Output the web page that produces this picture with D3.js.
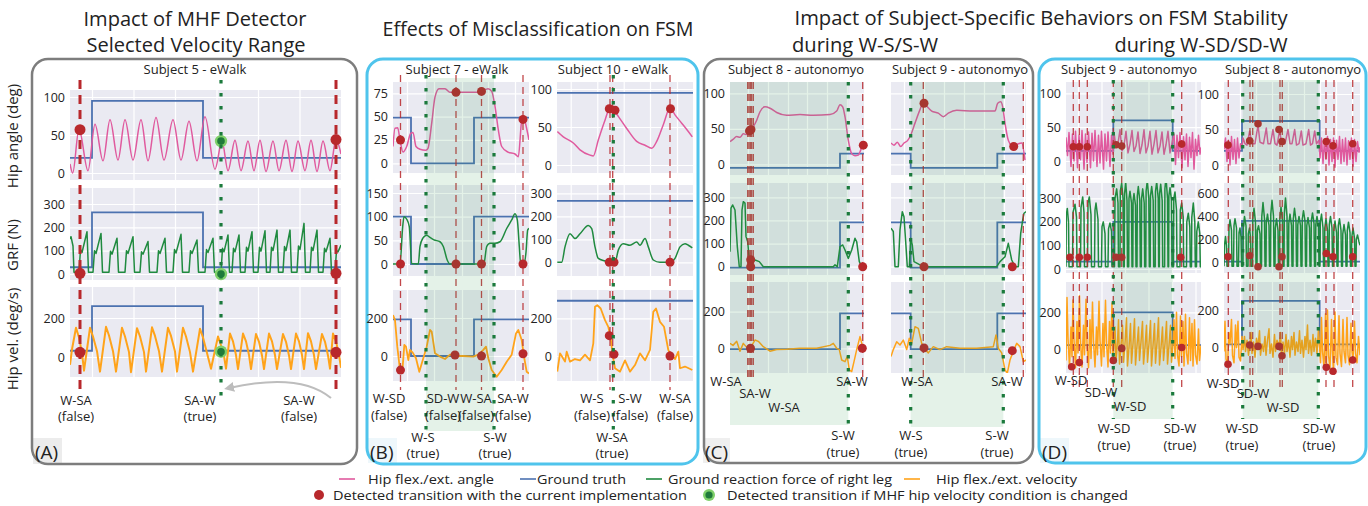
<!DOCTYPE html>
<html><head><meta charset="utf-8">
<script src="https://cdn.jsdelivr.net/npm/d3@7"></script>
<style>
body{margin:0;background:#fff}
svg{display:block}
text{font-family:'Open Sans',sans-serif;fill:#222}
</style></head><body>
<svg id="c" width="1368" height="506"></svg>
<script>
// ================= DATA =================
// ---- Panel A : Subject 5 - eWalk (time in samples) ----
const aTruthAngle=[[0,20],[22,95],[133,20],[271,20]];
const aTruthGrf=[[0,29],[22,264],[133,29],[271,29]];
const aTruthVel=[[0,32],[22,261],[133,32],[271,32]];
const aAngle=[[0,12],[2.7,0],[9,58],[18,3],[25,64],[33,16],[40,70],[48,17],[55,70],[63,17],[71,70],[78,16],[86,73],[94,17],[103,70],[111,17],[119,68],[127,16],[135,74],[145,5],[152,42],[158,3],[165,43],[171,3],[178,42],[184,3],[190,43],[196,2],[203,42],[209,3],[216,43],[222,2],[228,42],[235,3],[241,43],[247,2],[253,42],[260,3],[266,44],[271,25]];
const aGrf=[[0,150],[1,160],[3,120],[4,8],[9,8],[10.5,105],[12,92],[17,181],[18.5,8],[23,8],[24.5,100],[26,88],[31,174],[32.5,8],[39,8],[40.5,98],[42,85],[47,153],[48.5,8],[55,8],[56.5,100],[58,88],[63,160],[64.5,8],[70,8],[71.5,95],[73,85],[78,139],[79.5,8],[87,8],[88.5,100],[90,88],[95,153],[96.5,8],[103,8],[104.5,105],[106,90],[111,170],[112.5,8],[119,8],[120.5,100],[122,88],[127,146],[128.5,8],[135,8],[136.5,105],[138,92],[143,153],[144.5,8],[151,8],[152.5,110],[154,95],[158,167],[159.5,8],[162,8],[163.5,110],[165,95],[169,167],[170.5,8],[175,8],[176.5,115],[178,98],[182,181],[183.5,8],[188,8],[189.5,115],[191,98],[195,185],[196.5,8],[200,8],[201.5,115],[203,100],[207,188],[208.5,8],[213,8],[214.5,118],[216,100],[220,188],[221.5,8],[227,8],[228.5,120],[230,105],[234,217],[235.5,8],[240,8],[241.5,115],[243,100],[247,188],[248.5,8],[253,8],[254.5,110],[256,95],[260,153],[261.5,8],[265,8],[266.5,100],[268,95],[271,124]];
const aVel=[[0,-40],[2,40],[6,150],[9,100],[12,20],[14,-70],[20,150],[23,105],[27,30],[30,-75],[36,155],[39,110],[43,30],[46,-75],[52,150],[55,105],[59,25],[61,-78],[67,148],[70,105],[74,25],[76,-75],[82,152],[85,108],[89,30],[92,-75],[98,150],[101,108],[105,28],[107,-75],[113,150],[116,105],[120,25],[123,-75],[130,145],[133,100],[137,20],[141,-60],[148,105],[151,60],[154,5],[156,-60],[160,120],[163,80],[166,10],[168,-62],[173,120],[176,80],[179,10],[181,-62],[186,118],[189,78],[192,8],[194,-62],[199,120],[202,80],[205,10],[207,-62],[213,118],[216,78],[219,8],[221,-62],[226,120],[229,80],[232,10],[234,-62],[238,122],[241,80],[244,10],[246,-62],[252,118],[255,78],[258,8],[260,-60],[263,120],[266,80],[269,10],[271,-55]];
const aRedT=[10,266], aGreenT=[151];
const aDotsAngle=[[10,57],[266,44]], aDotsGrf=[[10,3],[266,3]], aDotsVel=[[10,24],[266,24]];
const aGreenDots=[[[151,42]],[[151,0]],[[151,27]]];
const aGridX=[22,63.5,105,146.5,188,229.5];

// ---- Panel B left : Subject 7 - eWalk ----
const blTruthAngle=[[0,49],[18,0],[81,49],[136,49]];
const blTruthGrf=[[0,100],[18,0],[81,100],[136,100]];
const blTruthVel=[[0,193],[18,0],[81,193],[136,193]];
const blAngle=[[0,18],[2,37.5],[4.7,38],[7,25],[10,12],[13.7,18],[17.7,32],[20,33],[23,18],[27,15],[32.7,14],[35,16],[38.7,43],[42,71],[46,80],[52,80],[57,76],[63.7,76],[80,76],[88.7,77],[95,80],[98.7,77],[102,61],[105.3,36],[108.7,18],[115,12],[122,10],[125.3,7],[128.7,46],[130.3,50],[133.7,37],[136,25]];
const blGrf=[[0,0],[7,0],[9.7,79],[11,100],[13.7,95],[16.3,79],[18.7,1],[25.3,0],[27,37],[29.7,54],[33.7,61],[37,56],[41,51],[47,47],[50.3,37],[54.3,8],[57,0],[82,0],[87,0],[91,2],[93.7,37],[97,44],[102,44],[107,47],[113.7,75],[118.7,93],[122,106],[124.3,93],[126.3,37],[127.7,0],[131,0],[133,25],[134.7,72],[136,75]];
const blVel=[[0,216],[2,189],[4.3,49],[7,-74],[9.7,-56],[11.3,58],[13,49],[15.3,-21],[17,32],[19.7,18],[23,-12],[26.3,-83],[30.3,-12],[33.7,49],[37,137],[38.7,128],[42,14],[47,-3],[52,-16],[57,7],[62,0],[70.3,0],[80.3,-3],[85.3,7],[90.3,32],[93,49],[95.3,-12],[98.7,-74],[103.7,-109],[108.7,-74],[113.7,-30],[118.7,7],[123,119],[125.3,137],[128.7,84],[131,-3],[133.7,-83],[136,-92]];
const blRedT=[7.5,63,88.5,130], blGreenT=[33,101], blShade=[33,101];
const blDotsAngle=[[7.5,25],[63,76],[88.5,77],[130,47]], blDotsGrf=[[7.5,0],[63,0],[88.5,0],[130,0]], blDotsVel=[[7.5,-74],[62,5],[88.5,0],[130,12]];
const blGridX=[14,41,69,95,122];

// ---- Panel B right : Subject 10 - eWalk ----
const brTruthAngle=[[0,95],[136,95]];
const brTruthGrf=[[0,267],[136,267]];
const brTruthVel=[[0,293],[136,293]];
const brAngle=[[0.3,44],[6.3,37],[16.3,29],[23,20],[33,13],[36.3,12],[41.3,33],[48,59],[53,75],[57,72],[61.3,64],[69.7,48],[79.7,31],[88,26],[94.7,22],[99.7,31],[106.3,53],[113,75],[118,66],[124.7,55],[131.3,44],[135.3,37]];
const brGrf=[[0.3,0],[4.7,0],[8,67],[13,124],[18,103],[23,124],[31.3,160],[34.7,146],[38,67],[41.3,17],[48,6],[53,0],[58,0],[61.3,53],[66.3,81],[73,74],[79.7,88],[83,74],[88,103],[91.3,67],[96.3,10],[103,0],[113,0],[118,17],[123,67],[128,81],[131.3,74],[135.3,63]];
const brVel=[[0.3,-83],[3,14],[4.7,0],[8,-30],[9.7,23],[13,-30],[18,-16],[23,-23],[28,7],[33,-23],[36.3,67],[38,261],[40.3,270],[43.7,252],[48,190],[51.3,155],[53.7,94],[55.7,5],[58,-65],[63,-83],[68,-23],[73,-83],[78,-48],[83,14],[88,-23],[93,32],[96.3,234],[99,252],[103,181],[107,155],[111.3,32],[113.7,5],[118,-16],[121.3,23],[123,-65],[128,-56],[135.3,-74]];
const brRedT=[53,55.7,113], brGreenT=[56.3];
const brDotsAngle=[[52.3,74],[58,72],[113.5,74]], brDotsGrf=[[52.3,0],[57,0],[113,0]], brDotsVel=[[52.3,108],[57,9],[113,0]];
const brGridX=[13.7,40.3,66.7,93,120];

// ---- Panel C left : Subject 8 - autonomyo ----
const clTruthAngle=[[0,-5],[110,15],[134,15]];
const clTruthGrf=[[0,-4],[110,192],[134,192]];
const clTruthVel=[[0,-5],[110,191],[134,191]];
const clAngle=[[0,32],[3,35],[6.7,39],[10,38],[13.3,43],[16,42],[20,48],[23.3,53],[26.7,62],[30,74],[35,81],[40,79],[46.7,73],[56.7,69],[70,70],[83.3,69],[100,70],[106.7,75],[110,84],[112.7,81],[115,67],[118.3,34],[121.7,15],[125,12],[128.3,13],[130.7,20],[132.7,27],[134,27]];
const clGrf=[[0,65],[1,253],[2.7,267],[5,245],[7.3,87],[9.3,0],[11,0],[12,245],[13.3,281],[15,275],[16,130],[17.7,108],[19.3,29],[21.7,36],[25,29],[29.3,22],[33.3,0],[103.3,0],[105,8],[107.3,0],[110,87],[112.7,94],[115,72],[118.3,36],[121.7,72],[125,123],[126.7,108],[129.3,22],[131.7,0],[134,0]];
const clVel=[[0,27],[3,16],[6.7,38],[10,-16],[13.3,27],[16.7,5],[20,0],[25,45],[28.3,38],[33.3,9],[40,-16],[46.7,-7],[56.7,-5],[70,0],[86.7,0],[100,16],[103.3,27],[106.7,0],[109.3,-7],[111.7,-64],[115,-73],[117.3,-45],[119.3,-118],[121.7,-127],[124,-73],[126.7,-7],[130,64],[132.3,16],[134,0]];
const clRedT=[17.7,19,20.3,21.7,23.3,132.7], clGreenT=[118.3], clShade=[0,118.3];
const clDotsAngle=[[19.5,47],[21,49],[133.3,27]], clDotsGrf=[[20.7,30],[20.7,0],[132.7,0]], clDotsVel=[[20.5,0],[132.3,0]];
const clGridX=[18,38,58,77,97,117];

// ---- Panel C right : Subject 9 - autonomyo ----
const crTruthAngle=[[0,15],[19.7,-5],[106.3,15],[135,15]];
const crTruthGrf=[[0,192],[19.7,-4],[106.3,192],[135,192]];
const crTruthVel=[[0,191],[19.7,-5],[106.3,191],[135,191]];
const crAngle=[[0,30],[3,27],[6.3,31],[9.7,25],[13,30],[16.3,33],[19.7,41],[24,58],[29,77],[32.3,87],[35.7,82],[40.7,75],[47.3,72],[52.3,67],[57.3,72],[65.7,76],[82.3,75],[99,75],[104,75],[106.7,86],[109.7,88],[111.7,81],[114,58],[117.3,34],[122.3,25],[127.3,29],[130.7,30],[134,6]];
const crGrf=[[0,166],[2.3,152],[4,0],[7.3,0],[9,159],[11.3,238],[13,216],[15,87],[16.3,0],[18.3,0],[19.7,123],[21.3,94],[23,22],[29,8],[35.7,0],[105.7,0],[109,22],[114,43],[117.3,101],[120.7,29],[124,0],[127.3,0],[129.7,144],[131.7,202],[133,231],[135,238]];
const crVel=[[0,-45],[2.3,-7],[5.7,36],[9,18],[12.3,45],[15.7,-7],[18.3,55],[20.7,27],[24,118],[27.3,109],[30.7,27],[33,0],[37.3,-25],[42.3,9],[49,-7],[55.7,9],[69,0],[85.7,0],[102.3,9],[105,73],[107.3,0],[110.7,-25],[114,-118],[116.3,-136],[119,-64],[122.3,-16],[125.7,27],[129,9],[132.3,-73],[135,-64]];
const crRedT=[32.3,132.3], crGreenT=[19.7,112.3], crShade=[19.7,112.3];
const crDotsAngle=[[33,86],[122.7,25]], crDotsGrf=[[33,0],[121.3,0]], crDotsVel=[[33,2],[121.3,-13]];
const crGridX=[13,33,53,73,93,113,133];

// ---- Panel D left : Subject 9 - autonomyo ----
const dlTruthAngle=[[0,15],[47.3,60],[106.7,15],[135,15]];
const dlTruthGrf=[[0,31],[47.3,200],[106.7,31],[135,31]];
const dlTruthVel=[[0,23],[47.3,200],[106.7,23],[135,23]];
const dlAngle=[[0,35],[1.5,8],[3,42],[5,-8],[6.5,40],[8,0],[9.5,44],[11.5,-10],[13,38],[14.5,2],[16,45],[18,-12],[19.5,40],[21,-2],[22.5,43],[24.5,-10],[26,41],[27.5,0],[29,45],[31,-8],[32.5,38],[34,-3],[35.5,44],[37.5,-12],[39,40],[40.5,0],[42,43],[44,-8],[45.5,38],[47,10],[48,42],[50,20],[52,26],[54,46],[56,15],[58,22],[60,44],[62,12],[64,25],[66,45],[68,14],[70,22],[72,43],[74,11],[76,24],[78,46],[80,12],[82,22],[84,44],[86,10],[88,25],[90,45],[92,12],[94,22],[96,43],[98,10],[100,24],[102,44],[104,12],[106.5,30],[108,40],[109.5,-5],[111,38],[112.5,5],[114,42],[116,-10],[117.5,36],[119,2],[120.5,40],[122,-8],[123.5,35],[125,5],[126.5,42],[128,-12],[129.5,32],[131,8],[132.5,38],[134,10],[135,20]];
const dlGrf=[[0,10],[0.3,230],[1.3,257],[2.5,200],[3,10],[6.5,10],[7,240],[9,275],[10.5,220],[11,10],[14.5,10],[15,260],[16.7,306],[18,240],[18.5,10],[21.5,10],[22,280],[23.3,306],[25,230],[25.5,10],[28.5,10],[29,250],[30,280],[32,210],[32.5,10],[35.5,10],[36,180],[37.3,200],[39,150],[39.5,10],[42,10],[42.5,170],[44,195],[45.5,160],[46,10],[48.5,10],[49,300],[50.7,340],[52,280],[52.5,10],[54,10],[54.3,330],[55.7,364],[57,300],[57.5,10],[58.3,10],[58.6,320],[59.7,370],[61,290],[61.5,10],[62.7,10],[63,300],[64,330],[65.5,280],[66,10],[66.8,10],[67.1,290],[68,320],[69.5,270],[70,10],[71,10],[71.3,310],[72.3,350],[73.8,290],[74.3,10],[75.3,10],[75.6,300],[76.7,340],[78.2,280],[78.7,10],[79.8,10],[80.1,330],[81.3,375],[82.8,300],[83.3,10],[84.2,10],[84.5,310],[85.7,350],[87.2,290],[87.7,10],[89.2,10],[89.5,330],[90.7,370],[92.2,300],[92.7,10],[93.3,10],[93.6,320],[94.7,360],[96.2,290],[96.7,10],[98.6,10],[98.9,340],[100,390],[101.5,300],[102,10],[102.6,10],[102.9,310],[104,345],[105.5,290],[106,10],[107.5,10],[107.8,300],[109,327],[110.5,250],[111,10],[114,10],[114.3,250],[115.7,280],[117.2,220],[117.7,10],[120.5,10],[120.8,200],[122.3,237],[123.8,180],[124.3,10],[125.5,10],[125.8,220],[127.3,280],[128.8,200],[129.3,10],[130.5,10],[130.8,160],[132.3,200],[133.8,150],[134.3,10],[135,10]];
const dlVel=[[0,-60],[1,280],[2,60],[3.5,-95],[5,120],[6,-40],[7,266],[8,50],[9.5,-100],[11,150],[12,-20],[13.5,290],[14.5,40],[16,-95],[17.5,130],[18.5,-30],[20,270],[21,30],[22.5,-100],[24,160],[25,-50],[26.5,255],[27.5,40],[29,-95],[30.5,120],[31.5,-30],[33,260],[34,50],[35.5,-90],[37,140],[38,-40],[39.5,265],[40.5,40],[42,-95],[43.5,150],[44.5,-20],[46,250],[47,-70],[49,120],[50,-60],[51.5,40],[52.5,160],[53.5,-80],[55,20],[56.5,130],[57.5,-70],[59,30],[60.5,170],[61.5,-90],[63,10],[64.5,140],[65.5,-75],[67,30],[68.5,165],[69.5,-85],[71,20],[72.5,120],[73.5,-60],[75,40],[76.5,150],[77.5,-80],[79,10],[80.5,130],[81.5,-70],[83,30],[84.5,155],[85.5,-90],[87,20],[88.5,140],[89.5,-75],[91,35],[92.5,170],[93.5,-85],[95,10],[96.5,120],[97.5,-60],[99,30],[100.5,150],[101.5,-80],[103,20],[104.5,130],[105.5,-70],[107,30],[108,160],[109,-50],[110.5,200],[111.5,-30],[113,-90],[114.5,180],[115.5,-40],[117,150],[118,-90],[119.5,190],[120.5,-20],[122,-80],[123.5,170],[124.5,-60],[126,140],[127,-90],[128.5,160],[129.5,-30],[131,-80],[132.5,110],[133.5,-60],[135,20]];
const dlRedT=[7.3,13.3,21.3,47.3,55.7,115.7], dlGreenT=[47.3,106.7], dlShade=[47.3,106.7];
const dlDotsAngle=[[7.3,21],[13.3,21],[21.3,21],[50,24],[55.7,22],[115.7,25]], dlDotsGrf=[[4,50],[13.3,50],[21.3,50],[50,50],[55.7,50],[114.7,50]], dlDotsVel=[[5.7,-94],[13.3,-72],[47.3,-60],[55.7,5],[115.7,10]];
const dlGridX=[12,35.5,59,82.5,106,129.5];

// ---- Panel D right : Subject 8 - autonomyo ----
const drTruthAngle=[[0,20],[18,62],[95.7,20],[136,20]];
const drTruthGrf=[[0,10],[18,362],[95.7,10],[136,10]];
const drTruthVel=[[0,18],[18,248],[95.7,18],[136,18]];
const drAngle=[[0,22],[1.5,38],[3,5],[4.5,35],[6,0],[7.5,40],[9,8],[10.5,36],[12,2],[13.5,38],[15,10],[16.5,30],[18,25],[19,38],[21,30],[23,28],[25.7,48],[27.5,30],[31,30],[34,56],[36,32],[39.5,30],[42.3,52],[44,30],[46.5,30],[49,50],[51,30],[53,28],[55.7,49],[57.5,30],[61,30],[64,50],[66,30],[68,30],[70.7,50],[72.5,28],[75,30],[77.3,48],[79,28],[82,30],[84.7,50],[86.5,28],[88.5,30],[90.7,48],[92.5,30],[95,35],[96,10],[97.5,38],[99,2],[100.5,35],[102,8],[103.5,40],[105,0],[106.5,36],[108,5],[109.5,38],[111,-3],[112.5,35],[114,8],[115.5,40],[117,2],[118.5,36],[120,5],[121.5,38],[123,0],[124.5,34],[126,8],[127.5,38],[129,-2],[130.5,36],[132,5],[133.5,33],[135,18],[136,25]];
const drGrf=[[0,-30],[0.5,150],[1.5,226],[2.5,150],[3,-30],[4.5,-30],[5,300],[6,371],[7.5,280],[8,-30],[9.5,-30],[10,320],[11,380],[12.5,300],[13,-30],[14.5,-30],[15,260],[16,300],[17,220],[17.5,-30],[19,-30],[19.3,300],[20.5,400],[22,320],[22.5,-30],[24,-30],[24.3,250],[25.5,300],[26.5,220],[27,-30],[28.5,-30],[28.8,380],[30,470],[31.5,350],[32,-30],[33,-30],[33.3,280],[34.5,320],[36,250],[36.5,-30],[37.5,-30],[37.8,400],[39,520],[40.5,380],[41,-30],[42,-30],[42.3,350],[43.5,420],[45,320],[45.5,-30],[46.5,-30],[46.8,420],[48,540],[49.5,400],[50,-30],[51,-30],[51.3,300],[52.5,380],[54,280],[54.5,-30],[55.5,-30],[55.8,380],[57,480],[58.5,360],[59,-30],[60,-30],[60.3,420],[61.5,560],[63,400],[63.5,-30],[64.5,-30],[64.8,340],[66,420],[67.5,320],[68,-30],[69,-30],[69.3,380],[70.5,470],[72,360],[72.5,-30],[73.5,-30],[73.8,330],[75,400],[76.5,320],[77,-30],[78,-30],[78.3,380],[79.5,450],[81,360],[81.5,-30],[82.5,-30],[82.8,320],[84,390],[85.5,300],[86,-30],[87,-30],[87.3,360],[88.5,430],[90,340],[90.5,-30],[91.5,-30],[91.8,330],[93,400],[94.5,310],[95,-30],[96,-30],[96.3,350],[97.5,420],[99,300],[99.5,-30],[100.5,-30],[100.8,300],[102,380],[103.5,280],[104,-30],[105,-30],[105.3,330],[106.5,400],[108,300],[108.5,-30],[109.5,-30],[109.8,280],[111,360],[112.5,260],[113,-30],[114,-30],[114.3,320],[115.5,380],[117,280],[117.5,-30],[118.5,-30],[118.8,250],[120,330],[121.5,240],[122,-30],[123,-30],[123.3,280],[124.5,350],[126,260],[126.5,-30],[127.5,-30],[127.8,220],[129,300],[130.5,210],[131,-30],[132,-30],[132.3,200],[133.5,240],[135,180],[136,150]];
const drVel=[[0,-20],[1,140],[2,-60],[3.5,-90],[5,80],[6,20],[7.5,150],[8.5,-40],[10,-80],[11.5,120],[12.5,0],[14,140],[15,-50],[16.5,-70],[18,60],[19,-10],[20.5,60],[21.5,-20],[23,40],[24.5,-40],[25.7,14],[27,80],[28,-30],[29.5,30],[31,-50],[32.5,50],[34,7],[35.5,90],[36.5,-40],[38,20],[39.5,-20],[41,60],[42,-40],[43.5,40],[45,100],[46,-30],[47.5,20],[49,-50],[50.5,70],[51.5,-20],[53,40],[55,7],[56.5,80],[57.5,-43],[59,30],[60.5,-30],[62,70],[63,-20],[64.5,40],[66,-50],[67.5,60],[68.5,-10],[70,80],[71,-40],[72.5,30],[74,-20],[75.5,90],[76.5,-30],[78,40],[79.5,-50],[81,60],[82,-10],[83.5,120],[84.5,-30],[86,40],[87.5,-40],[89,70],[90,-20],[91.5,50],[93,-30],[94.5,100],[95.5,10],[96.5,-80],[97.5,160],[98.5,-20],[100,-100],[101.5,180],[102.3,-104],[103.5,200],[104.5,-40],[106,-110],[107.5,150],[108.5,-30],[109.5,-130],[111,190],[112,-50],[113.5,-90],[115,170],[116,-30],[117.5,-100],[119,150],[120,-20],[121.5,-80],[123,160],[124,-40],[125.5,-90],[127,130],[128,-20],[129,-65],[130.5,140],[131.5,-30],[133,-80],[134.5,60],[136,-40]];
const drRedT=[4.3,26,28.7,56,58.3,102,110,128.7], drGreenT=[18.7,94.3], drShade=[18.7,94.3];
const drDotsAngle=[[4,28],[25.7,34],[34,58],[55,50],[58,33],[102.3,33],[109,27],[128.7,30]], drDotsGrf=[[4,52],[25.7,60],[34,-35],[55,-35],[58,52],[102.3,80],[109,52],[128.7,52]], drDotsVel=[[4,-88],[25.7,14],[34,7],[55,7],[58,-43],[102.3,-104],[109,-125],[128.7,-65]];
const drGridX=[16,32,48,64,80,96,112,128];

// ---- text ----
const yAxisTitles=['Hip angle (deg)','GRF (N)','Hip vel. (deg/s)'];
const legendLines=['Hip flex./ext. angle','Ground truth','Ground reaction force of right leg','Hip flex./ext. velocity'];
const legendDots=['Detected transition with the current implementation','Detected transition if MHF hip velocity condition is changed'];

// ================= STYLE / LAYOUT =================
const C={angle:'#e05a9e',truth:'#4c72b0',grf:'#1f8a3f',vel:'#ffa31a',red:'#b8282c',green:'#1b7a3c',bg:'#eaeaf2',shade:'#2e9e50',gray:'#7d7d7d',blue:'#4fc4ec'};

function rowsDef(r, sets, labels){
  return r.map((d,i)=>Object.assign({},d,sets[i],{labels}));
}
const subplots=[
 {x0:70,x1:341,w:271,grid:aGridX,red:aRedT,green:aGreenT,shade:null,thick:true,evTop:80,redBot:395,greenBot:397,r:5.5,title:'Subject 5 - eWalk',tx:195,
  rows:rowsDef([{top:90,bottom:180,cal:[0,173,100,97],ticks:[0,50,100]},{top:188,bottom:280,cal:[0,274,300,204],ticks:[0,100,200,300]},{top:287,bottom:377,cal:[0,357,200,318],ticks:[0,200]}],
   [{s:aAngle,t:aTruthAngle,c:'angle',d:aDotsAngle,curve:'smooth'},{s:aGrf,t:aTruthGrf,c:'grf',d:aDotsGrf,curve:'lin'},{s:aVel,t:aTruthVel,c:'vel',d:aDotsVel,curve:'lin',lw:2}],true),
  greenDots:aGreenDots},
 {x0:393,x1:529,w:136,grid:blGridX,red:blRedT,green:blGreenT,shade:blShade,evTop:75,redBot:390,greenBot:432,shadeTop:78,shadeBot:431,r:4.5,title:'Subject 7 - eWalk',tx:457,
  rows:rowsDef([{top:82,bottom:173,cal:[0,163.3,75,93.3],ticks:[0,25,50,75]},{top:185,bottom:276,cal:[0,264,150,193],ticks:[0,50,100,150]},{top:290,bottom:381,cal:[0,356,200,318],ticks:[0,200]}],
   [{s:blAngle,t:blTruthAngle,c:'angle',d:blDotsAngle,curve:'smooth'},{s:blGrf,t:blTruthGrf,c:'grf',d:blDotsGrf,curve:'smooth'},{s:blVel,t:blTruthVel,c:'vel',d:blDotsVel,curve:'lin',lw:1.8}],true)},
 {x0:557,x1:693,w:136,grid:brGridX,red:brRedT,green:brGreenT,shade:null,evTop:75,redBot:390,greenBot:432,r:4.5,title:'Subject 10 - eWalk',tx:613,
  rows:rowsDef([{top:82,bottom:173,cal:[0,165,100,89],ticks:[0,50,100]},{top:185,bottom:276,cal:[0,262.3,300,193.3],ticks:[0,100,200,300]},{top:290,bottom:381,cal:[0,356,200,318.3],ticks:[0,200]}],
   [{s:brAngle,t:brTruthAngle,c:'angle',d:brDotsAngle,curve:'smooth'},{s:brGrf,t:brTruthGrf,c:'grf',d:brDotsGrf,curve:'smooth'},{s:brVel,t:brTruthVel,c:'vel',d:brDotsVel,curve:'lin',lw:1.8}],true)},
 {x0:730,x1:864,w:134,grid:clGridX,red:clRedT,green:clGreenT,shade:clShade,evTop:82,redBot:382,greenBot:425,shadeTop:82,shadeBot:425,r:4.5,title:'Subject 8 - autonomyo',tx:796,
  rows:rowsDef([{top:82,bottom:175,cal:[0,164.3,100,93.3],ticks:[0,50,100]},{top:183,bottom:275,cal:[0,266.7,300,197.3],ticks:[0,100,200,300]},{top:282,bottom:373,cal:[0,348.3,200,311.7],ticks:[0,200]}],
   [{s:clAngle,t:clTruthAngle,c:'angle',d:clDotsAngle,curve:'smooth'},{s:clGrf,t:clTruthGrf,c:'grf',d:clDotsGrf,curve:'lin'},{s:clVel,t:clTruthVel,c:'vel',d:clDotsVel,curve:'lin'}],true)},
 {x0:891,x1:1026,w:135,grid:crGridX,red:crRedT,green:crGreenT,shade:crShade,evTop:82,redBot:382,greenBot:427,shadeTop:82,shadeBot:427,r:4.5,title:'Subject 9 - autonomyo',tx:960,
  rows:rowsDef([{top:82,bottom:175,cal:[0,164.3,100,93.3],ticks:[0,50,100]},{top:183,bottom:275,cal:[0,266.7,300,197.3],ticks:[0,100,200,300]},{top:282,bottom:373,cal:[0,348.3,200,311.7],ticks:[0,200]}],
   [{s:crAngle,t:crTruthAngle,c:'angle',d:crDotsAngle,curve:'smooth'},{s:crGrf,t:crTruthGrf,c:'grf',d:crDotsGrf,curve:'lin'},{s:crVel,t:crTruthVel,c:'vel',d:crDotsVel,curve:'lin'}],false)},
 {x0:1066,x1:1201,w:135,grid:dlGridX,red:dlRedT,green:dlGreenT,shade:dlShade,evTop:80,redBot:392,greenBot:419,shadeTop:80,shadeBot:419,r:3.8,title:'Subject 9 - autonomyo',tx:1129,
  rows:rowsDef([{top:82,bottom:173,cal:[0,161,100,93.3],ticks:[0,50,100]},{top:183,bottom:273,cal:[0,269,300,198.3],ticks:[0,100,200,300]},{top:282,bottom:373,cal:[0,349.3,200,312.3],ticks:[0,200]}],
   [{s:dlAngle,t:dlTruthAngle,c:'angle',d:dlDotsAngle,curve:'lin'},{s:dlGrf,t:dlTruthGrf,c:'grf',d:dlDotsGrf,curve:'lin'},{s:dlVel,t:dlTruthVel,c:'vel',d:dlDotsVel,curve:'lin'}],true)},
 {x0:1224,x1:1360,w:136,grid:drGridX,red:drRedT,green:drGreenT,shade:drShade,evTop:80,redBot:392,greenBot:419,shadeTop:80,shadeBot:419,r:3.8,title:'Subject 8 - autonomyo',tx:1293,
  rows:rowsDef([{top:82,bottom:173,cal:[0,165,100,94],ticks:[0,50,100]},{top:183,bottom:273,cal:[0,262.7,600,193.3],ticks:[0,200,400,600]},{top:282,bottom:373,cal:[0,347.7,200,310],ticks:[0,200]}],
   [{s:drAngle,t:drTruthAngle,c:'angle',d:drDotsAngle,curve:'lin'},{s:drGrf,t:drTruthGrf,c:'grf',d:drDotsGrf,curve:'lin'},{s:drVel,t:drTruthVel,c:'vel',d:drDotsVel,curve:'lin'}],true)}
];

const boxes=[
 {x:32,y:59,w:325,h:405,stroke:C.gray,label:'(A)',lb:[33,438,29,26],lbFill:'#ececec'},
 {x:367,y:59,w:331,h:405,stroke:C.blue,label:'(B)',lb:[368,438,29,25],lbFill:'#eef7fb'},
 {x:704,y:59,w:329,h:404,stroke:C.gray,label:'(C)',lb:[703,438,27,25],lbFill:'#efefef'},
 {x:1039,y:59,w:327,h:404,stroke:C.blue,label:'(D)',lb:[1040,438,29,25],lbFill:'#eef7fb'}
];

const titles=[
 {t:'Impact of MHF Detector',x:195,y:26,len:223},
 {t:'Selected Velocity Range',x:196,y:52,len:219},
 {t:'Effects of Misclassification on FSM',x:538,y:36,len:311},
 {t:'Impact of Subject-Specific Behaviors  on FSM Stability',x:1041,y:25,len:493},
 {t:'during W-S/S-W',x:865,y:52,len:146},
 {t:'during W-SD/SD-W',x:1201,y:52,len:173}
];

const notes=[
 ['W-SA',76,405],['(false)',76,421],['SA-W',200,405],['(true)',200,421],['SA-W',299,405],['(false)',299,421],
 ['W-SD',389,403],['(false)',389,420],['SD-W',443,403],['(false)',443,420],['W-SA',476,403],['(false)',476,420],['SA-W',513,403],['(false)',513,420],
 ['W-S',423,442],['(true)',423,458],['S-W',495,442],['(true)',495,458],
 ['W-S',592,403],['(false)',592,420],['S-W',630,403],['(false)',630,420],['W-SA',675,403],['(false)',675,420],['W-SA',612,442],['(true)',612,458],
 ['W-SA',726,386],['SA-W',755,398],['W-SA',784,412],['SA-W',852,386],['S-W',843,440],['(true)',843,457],
 ['W-SA',917,386],['SA-W',1007,386],['W-S',911,440],['(true)',911,457],['S-W',997,440],['(true)',997,457],
 ['W-SD',1071,385],['SD-W',1101,397],['W-SD',1130,411],['W-SD',1114,433],['(true)',1114,450],['SD-W',1180,433],['(true)',1180,450],
 ['W-SD',1223,388],['SD-W',1253,398],['W-SD',1283,412],['W-SD',1242,433],['(true)',1242,450],['SD-W',1319,433],['(true)',1319,450]
];

// ================= DRAW =================
const svg=d3.select('#c');
const defs=svg.append('defs');
const gBoxLabels=svg.append('g');
const gPlots=svg.append('g');
const gTop=svg.append('g');

boxes.forEach(b=>{
  gBoxLabels.append('rect').attr('x',b.lb[0]).attr('y',b.lb[1]).attr('width',b.lb[2]).attr('height',b.lb[3]).attr('fill',b.lbFill);
  gBoxLabels.append('rect').attr('x',b.x).attr('y',b.y).attr('width',b.w).attr('height',b.h).attr('rx',16).attr('ry',16)
    .attr('fill','none').attr('stroke',b.stroke).attr('stroke-width',b.stroke===C.gray?2.5:3);
  gBoxLabels.append('text').attr('x',b.lb[0]+2).attr('y',b.lb[1]+21).attr('font-size',19).text(b.label);
});

let cid=0;
subplots.forEach(sp=>{
  const x=d3.scaleLinear().domain([0,sp.w]).range([sp.x0,sp.x1]);
  const g=gPlots.append('g');
  const W=sp.x1-sp.x0;
  const ys=sp.rows.map(r=>d3.scaleLinear().domain([r.cal[0],r.cal[2]]).range([r.cal[1],r.cal[3]]));
  g.append('text').attr('x',sp.tx).attr('y',74).attr('text-anchor','middle').attr('font-size',13).text(sp.title);
  sp.rows.forEach((r,i)=>{
    const y=ys[i];
    g.append('rect').attr('x',sp.x0).attr('y',r.top).attr('width',W).attr('height',r.bottom-r.top).attr('fill',C.bg);
    const gx=g.append('g').attr('transform',`translate(0,${r.bottom})`)
      .call(d3.axisBottom(x).tickValues(sp.grid).tickSize(-(r.bottom-r.top)).tickFormat(''));
    gx.select('.domain').remove();
    gx.selectAll('line').attr('stroke','#fff').attr('stroke-width',1.2);
    const gy=g.append('g').attr('transform',`translate(${sp.x0},0)`)
      .call(d3.axisLeft(y).tickValues(r.ticks).tickSize(-W).tickPadding(5).tickFormat(r.labels?d3.format('d'):''));
    gy.select('.domain').remove();
    gy.selectAll('line').attr('stroke','#fff').attr('stroke-width',1.2);
    gy.selectAll('text').attr('font-size',12.5).attr('fill','#222').attr('font-family',"'Open Sans',sans-serif");
  });
  sp.rows.forEach((r,i)=>{
    const y=ys[i];
    const id='cl'+(cid++);
    defs.append('clipPath').attr('id',id).append('rect').attr('x',sp.x0).attr('y',r.top).attr('width',W).attr('height',r.bottom-r.top);
    const gc=g.append('g').attr('clip-path',`url(#${id})`);
    gc.append('path').datum(r.t).attr('fill','none').attr('stroke',C.truth).attr('stroke-width',1.8)
      .attr('d',d3.line().x(d=>x(d[0])).y(d=>y(d[1])).curve(d3.curveStepAfter));
    gc.append('path').datum(r.s).attr('fill','none').attr('stroke',C[r.c]).attr('stroke-width',r.lw||1.5).attr('stroke-linejoin','round')
      .attr('d',d3.line().x(d=>x(d[0])).y(d=>y(d[1])).curve(r.curve==='smooth'?d3.curveMonotoneX:d3.curveLinear));
  });
  g.selectAll(null).data(sp.red).join('line')
    .attr('x1',d=>x(d)).attr('x2',d=>x(d)).attr('y1',sp.evTop).attr('y2',sp.redBot)
    .attr('stroke',C.red).attr('stroke-width',sp.thick?3:1.3).attr('stroke-dasharray',sp.thick?'9,6':'7,5').attr('opacity',sp.thick?1:0.85);
  sp.rows.forEach((r,i)=>{
    const y=ys[i];
    g.selectAll(null).data(r.d).join('circle').attr('cx',d=>x(d[0])).attr('cy',d=>y(d[1])).attr('r',sp.r).attr('fill',C.red);
    if(sp.greenDots){
      const gd=sp.greenDots[i];
      g.selectAll(null).data(gd).join('circle').attr('cx',d=>x(d[0])).attr('cy',d=>y(d[1])).attr('r',6.2).attr('fill','#7fd06a');
      g.selectAll(null).data(gd).join('circle').attr('cx',d=>x(d[0])).attr('cy',d=>y(d[1])).attr('r',3.8).attr('fill','#1f7a3a');
    }
  });
  if(sp.shade){
    g.append('rect').attr('x',x(sp.shade[0])).attr('y',sp.shadeTop).attr('width',x(sp.shade[1])-x(sp.shade[0])).attr('height',sp.shadeBot-sp.shadeTop)
      .attr('fill',C.shade).attr('opacity',0.13);
  }
  g.selectAll(null).data(sp.green).join('line')
    .attr('x1',d=>x(d)).attr('x2',d=>x(d)).attr('y1',sp.evTop).attr('y2',sp.greenBot)
    .attr('stroke',C.green).attr('stroke-width',3.2).attr('stroke-dasharray','3.5,9.5');
});

// y axis titles (panel A rows)
const yT=[[18,136],[18,245],[18,339]];
yAxisTitles.forEach((t,i)=>{
  gTop.append('text').attr('transform',`translate(${yT[i][0]},${yT[i][1]}) rotate(-90)`).attr('text-anchor','middle').attr('font-size',15).text(t);
});

titles.forEach(t=>{
  gTop.append('text').attr('x',t.x).attr('y',t.y).attr('text-anchor','middle').attr('font-size',20)
    .attr('textLength',t.len).attr('lengthAdjust','spacingAndGlyphs').attr('fill','#2a2a2a').text(t.t);
});

notes.forEach(n=>{
  gTop.append('text').attr('x',n[1]).attr('y',n[2]).attr('text-anchor','middle').attr('font-size',13).text(n[0]);
});

// arrow in panel A
defs.append('marker').attr('id','ah').attr('viewBox','0 0 10 10').attr('refX',5).attr('refY',5).attr('markerWidth',5).attr('markerHeight',5).attr('orient','auto-start-reverse')
  .append('path').attr('d','M0,0L10,5L0,10z').attr('fill','#bdbdbd');
const ap=d3.path(); ap.moveTo(331,398); ap.quadraticCurveTo(300,372,229,388);
gTop.append('path').attr('d',ap.toString()).attr('fill','none').attr('stroke','#bdbdbd').attr('stroke-width',2).attr('marker-end','url(#ah)');

// legend
const legX=[339,520,646,904], legTX=[368,537,668,936], legLen=[126,89,224,141];
const legC=[C.angle,C.truth,C.grf,C.vel];
legendLines.forEach((t,i)=>{
  gTop.append('line').attr('x1',legX[i]).attr('x2',legX[i]+16).attr('y1',479).attr('y2',479).attr('stroke',legC[i]).attr('stroke-width',1.6);
  gTop.append('text').attr('x',legTX[i]).attr('y',484).attr('font-size',13).attr('textLength',legLen[i]).attr('lengthAdjust','spacingAndGlyphs').text(t);
});
gTop.append('circle').attr('cx',319).attr('cy',495).attr('r',5).attr('fill',C.red);
gTop.append('text').attr('x',333).attr('y',500).attr('font-size',13).attr('textLength',354).attr('lengthAdjust','spacingAndGlyphs').text(legendDots[0]);
gTop.append('circle').attr('cx',709).attr('cy',495).attr('r',6).attr('fill','#7fd06a');
gTop.append('circle').attr('cx',709).attr('cy',495).attr('r',3.6).attr('fill','#1f7a3a');
gTop.append('text').attr('x',727).attr('y',500).attr('font-size',13).attr('textLength',401).attr('lengthAdjust','spacingAndGlyphs').text(legendDots[1]);
</script></body></html>
